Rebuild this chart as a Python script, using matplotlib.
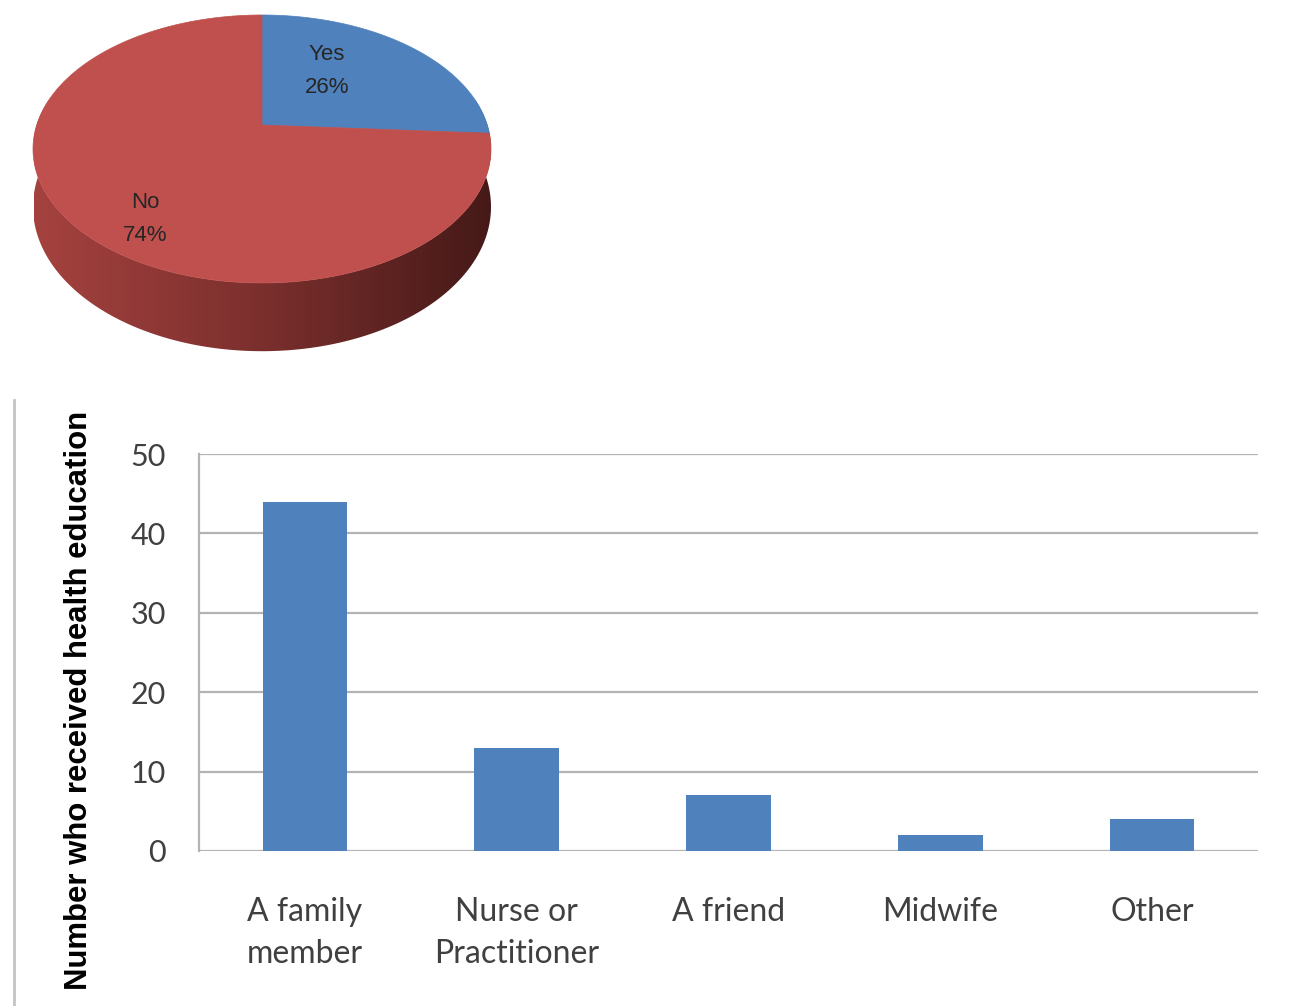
import numpy as np
import matplotlib
matplotlib.use("Agg")
import matplotlib.pyplot as plt
from matplotlib.patches import Polygon
from matplotlib.lines import Line2D

# ---- data ----
pie_labels = ["Yes", "No"]
pie_shares = [26, 74]
pie_colors = ["#4F81BD", "#C0504D"]

categories = ["A family\nmember", "Nurse or\nPractitioner", "A friend", "Midwife", "Other"]
counts = [44, 13, 7, 2, 4]
y_ticks = [0, 10, 20, 30, 40, 50]
y_label = "Number who received health education"

W, H = 1292, 1006
fig = plt.figure(figsize=(W / 100, H / 100), dpi=100)
fig.patch.set_facecolor("white")

label_font = ["Lato", "DejaVu Sans"]
narrow_font = ["Liberation Sans Narrow", "Liberation Sans", "DejaVu Sans"]

# ---- 3D pie drawn in a pixel-space overlay ----
pax = fig.add_axes([0, 0, 1, 1])
pax.set_xlim(0, W)
pax.set_ylim(H, 0)
pax.axis("off")
pax.set_zorder(2)

cx, cy = 262.0, 125.0      # projected centre of the top face
A, B = 225.3, 129.7        # horizontal / depth scale
k = 0.179                  # perspective strength
depth = 56.0               # side thickness


def proj(t, r=1.0, z=0.0):
    u = r * np.cos(t)
    v = r * np.sin(t)
    w = 1 + k * v
    return cx + A * u / w, cy - B * v / w + z * depth / w


# slice angle ranges, clockwise from 12 o'clock
bounds = []
start = np.pi / 2
for s in pie_shares:
    end = start - 2 * np.pi * s / 100
    bounds.append((start, end))
    start = end

# side wall: one outline filled with a horizontal shading gradient
ts = np.linspace(np.pi - 0.25, 2 * np.pi + 0.25, 400)
xt, yt = proj(ts)
xb, yb = proj(ts[::-1], z=1)
side_pts = np.column_stack([np.r_[xt, xb], np.r_[yt, yb]])
side_patch = Polygon(side_pts, closed=True, facecolor="none", edgecolor="none")
pax.add_patch(side_patch)

stops_x = np.array([0.0, 0.5, 1.0])
stops_c = np.array([[165, 66, 63], [122, 47, 45], [68, 25, 23]]) / 255
gx = np.linspace(0, 1, 600)
grad = np.stack([np.interp(gx, stops_x, stops_c[:, j]) for j in range(3)], axis=-1)
grad = np.repeat(grad[None, :, :], 2, axis=0)
img = pax.imshow(grad, extent=(cx - A - 3, cx + A + 8, 380, 100),
                 aspect="auto", interpolation="bilinear", zorder=1)
img.set_clip_path(side_patch)
pax.set_xlim(0, W)
pax.set_ylim(H, 0)

# top face slices
for (a0, a1), c in zip(bounds, pie_colors):
    tt = np.linspace(a0, a1, 200)
    xs, ys = proj(tt)
    pts = [(cx, cy)] + list(zip(xs, ys))
    pax.add_patch(Polygon(pts, closed=True, facecolor=c, edgecolor=c, lw=0.5, zorder=2))

pie_text_pos = [(327, 71), (145, 219)]
for (x, y), lab, s in zip(pie_text_pos, pie_labels, pie_shares):
    pax.text(x, y, f"{lab}\n{s}%", ha="center", va="center", fontsize=16,
             family=narrow_font, color="#262626", linespacing=1.8, zorder=3)

# divider line at the left of the bar panel
fig.add_artist(Line2D([14 / W, 14 / W], [0, 1 - 400 / H], color="#c4c4c4", lw=2))

# ---- bar chart ----
ax = fig.add_axes([199 / W, 1 - 851 / H, (1258 - 199) / W, (851 - 454) / H])
ax.set_zorder(1)
x = np.arange(len(categories))
ax.bar(x, counts, width=0.4, color="#4F81BD", zorder=3)
ax.set_xlim(-0.5, len(categories) - 0.5)
ax.set_ylim(0, 50)
ax.set_yticks(y_ticks)
ax.yaxis.grid(True, color="#b3b3b3", lw=1.6, zorder=0)
ax.set_axisbelow(True)
for side in ["top", "right", "bottom"]:
    ax.spines[side].set_visible(False)
ax.spines["left"].set_color("#b3b3b3")
ax.spines["left"].set_linewidth(1.6)
ax.tick_params(axis="both", length=0, labelcolor="#404040")
ax.tick_params(axis="y", pad=24, labelsize=22)
ax.tick_params(axis="x", pad=33, labelsize=23)
ax.set_xticks(x)
ax.set_xticklabels(categories, linespacing=1.5)
for lab in ax.get_xticklabels() + ax.get_yticklabels():
    lab.set_family(label_font)

fig.text(79 / W, 1 - 700 / H, y_label, rotation=90, ha="center", va="center",
         fontsize=22.4, fontweight="bold", family=narrow_font, color="black")

fig.savefig("out.png", dpi=100, facecolor="white")
